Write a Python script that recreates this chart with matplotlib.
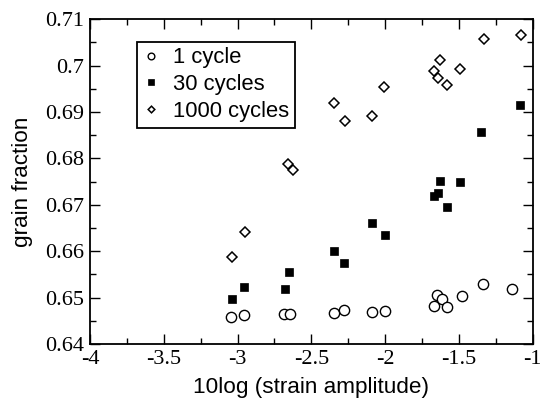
import matplotlib
matplotlib.use("Agg")
import matplotlib.pyplot as plt
from matplotlib.ticker import MultipleLocator, FuncFormatter

x1 = [-3.043, -2.959, -2.686, -2.647, -2.347, -2.279, -2.087, -2.000, -1.669, -1.649, -1.617, -1.579, -1.479, -1.337, -1.139]
y1 = [0.6459, 0.6462, 0.6465, 0.6464, 0.6467, 0.6473, 0.6468, 0.6472, 0.6482, 0.6505, 0.6496, 0.6479, 0.6504, 0.6529, 0.6519]

x30 = [-3.038, -2.959, -2.677, -2.650, -2.347, -2.279, -2.087, -2.000, -1.669, -1.640, -1.631, -1.579, -1.491, -1.349, -1.087]
y30 = [0.6496, 0.6522, 0.6519, 0.6555, 0.6600, 0.6574, 0.6660, 0.6636, 0.6720, 0.6726, 0.6751, 0.6696, 0.6750, 0.6858, 0.6916]

x1000 = [-3.038, -2.950, -2.656, -2.627, -2.349, -2.270, -2.089, -2.010, -1.667, -1.631, -1.640, -1.579, -1.493, -1.329, -1.078]
y1000 = [0.6588, 0.6642, 0.6789, 0.6776, 0.6920, 0.6880, 0.6891, 0.6954, 0.6988, 0.7012, 0.6973, 0.6958, 0.6993, 0.7057, 0.7067]

labels = ["1 cycle", "30 cycles", "1000 cycles"]

fig = plt.figure(figsize=(5.4, 4.0), dpi=100)
ax = fig.add_axes([90/540, 56/400, 442.7/540, 324.7/400])

ax.plot(x1, y1, linestyle="none", marker="o", markersize=7.4, markerfacecolor="white",
        markeredgecolor="black", markeredgewidth=1.0, label=labels[0])
ax.plot(x30, y30, linestyle="none", marker="s", markersize=6.2, markerfacecolor="black",
        markeredgecolor="black", markeredgewidth=0.5, label=labels[1])
ax.plot(x1000, y1000, linestyle="none", marker="D", markersize=5.2, markerfacecolor="white",
        markeredgecolor="black", markeredgewidth=1.1, label=labels[2])

ax.set_xlim(-4, -1)
ax.set_ylim(0.64, 0.71)
ax.xaxis.set_major_locator(MultipleLocator(0.5))
ax.xaxis.set_minor_locator(MultipleLocator(0.25))
ax.yaxis.set_major_locator(MultipleLocator(0.01))
ax.yaxis.set_minor_locator(MultipleLocator(0.005))

def fmt(v, pos):
    s = ("%.3f" % v).rstrip("0").rstrip(".")
    if s == "-0":
        s = "0"
    return s

ax.xaxis.set_major_formatter(FuncFormatter(fmt))
ax.yaxis.set_major_formatter(FuncFormatter(fmt))

ax.tick_params(which="both", direction="in", top=True, right=True, width=1.0, colors="black")
ax.tick_params(which="major", length=7, pad=4)
ax.tick_params(which="minor", length=4)
for lab in ax.get_xticklabels() + ax.get_yticklabels():
    lab.set_fontfamily("Liberation Serif")
    lab.set_fontsize(16)
for sp in ax.spines.values():
    sp.set_linewidth(1.3)

ax.set_xlabel("10log (strain amplitude)", fontsize=16.2, family="Liberation Sans", labelpad=6)
ax.set_ylabel("grain fraction", fontsize=16.2, family="Liberation Sans", labelpad=9)

leg = ax.legend(loc="upper left", bbox_to_anchor=(0.106, 0.931), borderaxespad=0,
                prop={"family": "Liberation Sans", "size": 15.8}, frameon=True, fancybox=False,
                handlelength=0.8, handletextpad=0.6, labelspacing=0.27, borderpad=0.25,
                markerscale=0.65, edgecolor="black", framealpha=1)
leg.get_frame().set_linewidth(1.3)

fig.savefig("out.png", dpi=100)
